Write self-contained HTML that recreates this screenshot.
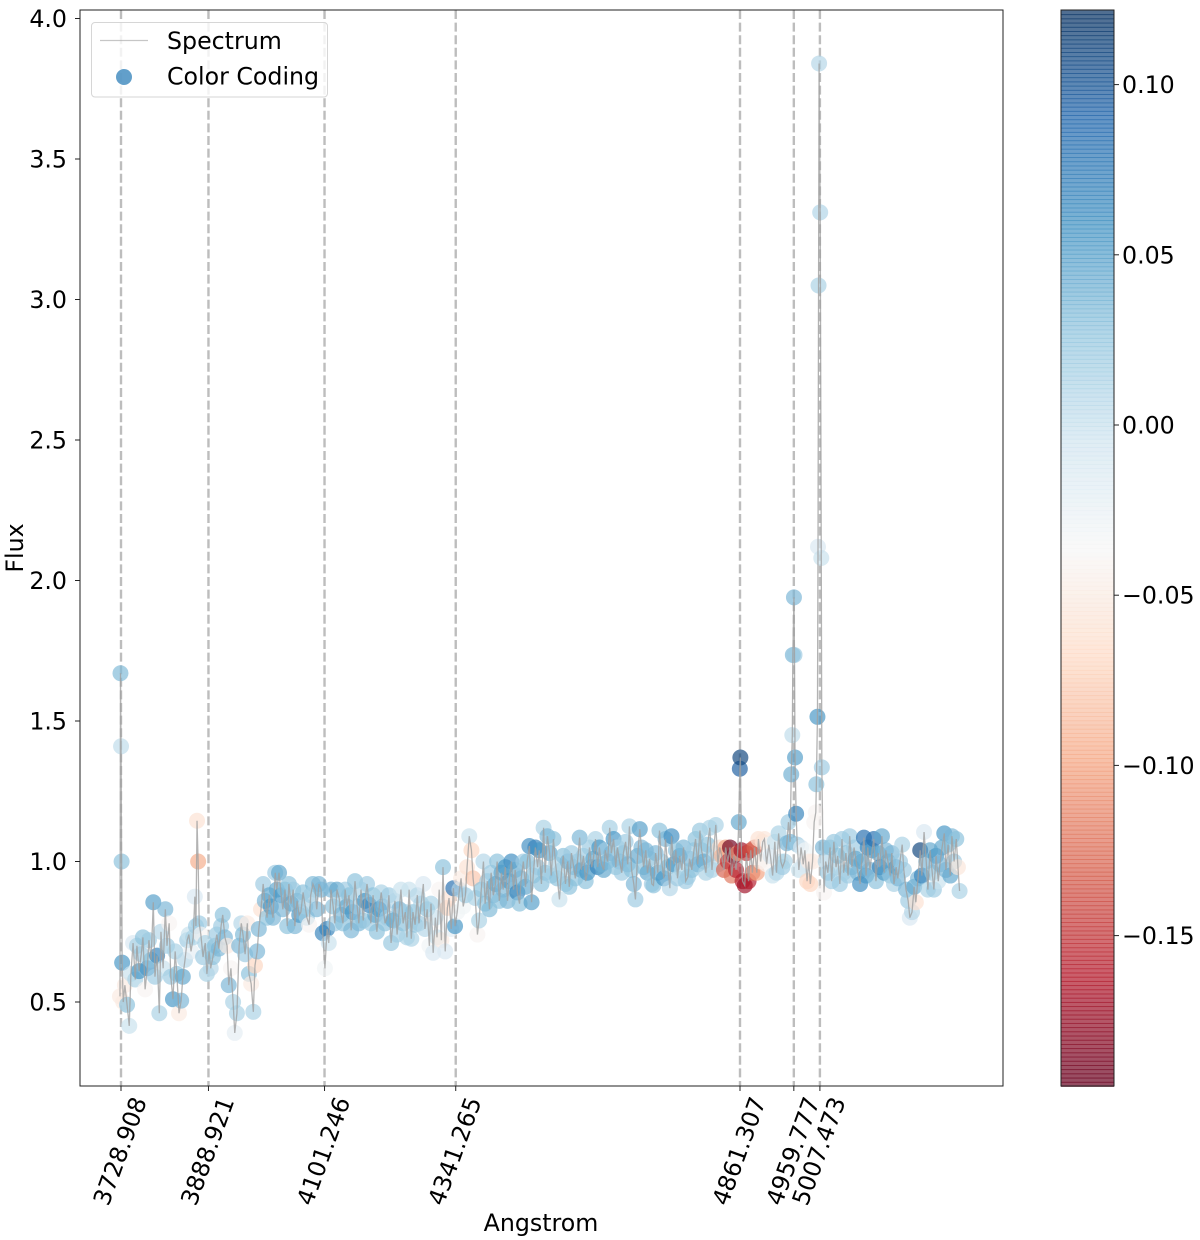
<!DOCTYPE html>
<html lang="en">
<head>
<meta charset="utf-8">
<title>Spectrum Flux Chart</title>
<style>
html,body{margin:0;padding:0;background:#fff;}
svg{display:block;}
text{font-family:"DejaVu Sans","Liberation Sans",sans-serif;font-size:23.7px;fill:#000;}
</style>
</head>
<body>
<svg id="chart" xmlns="http://www.w3.org/2000/svg" width="1200" height="1240" viewBox="0 0 1200 1240">
  <rect x="80" y="10" width="923" height="1076" fill="#fff"/>
  <g id="vlines"></g>
  <g id="dots"></g>
  <path id="spectrum" fill="none" stroke="#a0a0a0" stroke-opacity="0.8" stroke-width="1.3"/>
  <rect x="80" y="10" width="923" height="1076" fill="none" stroke="#222" stroke-width="1"/>
  <g id="xticks"></g>
  <g id="yticks"></g>
  <text x="541" y="1231" text-anchor="middle">Angstrom</text>
  <text transform="translate(23,548) rotate(-90)" text-anchor="middle">Flux</text>
  <g>
    <rect x="91.5" y="22.5" width="236" height="74.5" rx="3.5" fill="#fff" fill-opacity="0.8" stroke="#ccc" stroke-opacity="0.8" stroke-width="1"/>
    <line x1="100" y1="40.5" x2="148" y2="40.5" stroke="#a0a0a0" stroke-opacity="0.6" stroke-width="1.2"/>
    <text x="167" y="49">Spectrum</text>
    <circle cx="124" cy="77" r="8" fill="#2d7fb8" fill-opacity="0.75"/>
    <text x="167" y="84.5">Color Coding</text>
  </g>
  <g id="colorbar"></g>
  <rect x="1061" y="10" width="53" height="1076" fill="none" stroke="#222" stroke-width="1"/>
  <g id="cticks"></g>
</svg>
<script>
const lineWavelengths = [3728.908, 3888.921, 4101.246, 4341.265, 4861.307, 4959.777, 5007.473];
const lineLabels = ["3728.908", "3888.921", "4101.246", "4341.265", "4861.307", "4959.777", "5007.473"];
const yTickValues = [0.5, 1.0, 1.5, 2.0, 2.5, 3.0, 3.5, 4.0];
const yTickLabels = ["0.5", "1.0", "1.5", "2.0", "2.5", "3.0", "3.5", "4.0"];
const colorTickValues = [0.10, 0.05, 0, -0.05, -0.10, -0.15];
const colorTickLabels = ["0.10", "0.05", "0.00", "\u22120.05", "\u22120.10", "\u22120.15"];
const colorLimits = [-0.194, 0.122];
const wavelengths = [
3727,3728,3729,3730,3731,3733,3736,3740,3744,3747,
3751,3755,3758,3762,3766,3769,3773,3777,3780,3784,
3788,3791,3795,3799,3802,3806,3810,3813,3817,3820,
3824,3828,3831,3835,3839,3842,3846,3850,3853,3857,
3861,3864,3866,3868,3870,3872,3875,3879,3883,3886,
3890,3893,3897,3901,3904,3908,3912,3915,3919,3923,
3926,3930,3934,3937,3941,3945,3949,3952,3956,3960,
3963,3967,3971,3974,3978,3981,3985,3989,3992,3996,
4000,4003,4007,4011,4014,4018,4022,4025,4029,4033,
4036,4040,4044,4047,4051,4055,4058,4062,4066,4069,
4073,4076,4080,4084,4087,4091,4095,4098,4102,4106,
4109,4113,4117,4120,4124,4128,4132,4135,4139,4142,
4146,4150,4153,4157,4161,4164,4168,4172,4175,4179,
4183,4186,4190,4194,4197,4201,4205,4208,4212,4216,
4219,4223,4227,4230,4234,4238,4241,4245,4249,4252,
4256,4260,4263,4267,4271,4274,4278,4282,4285,4289,
4293,4296,4300,4304,4307,4311,4315,4318,4322,4326,
4329,4333,4337,4340,4344,4348,4351,4355,4359,4362,
4366,4370,4373,4377,4381,4384,4388,4392,4395,4399,
4403,4406,4410,4414,4417,4421,4425,4428,4432,4436,
4439,4443,4447,4450,4454,4458,4461,4465,4469,4472,
4476,4480,4483,4487,4491,4494,4498,4502,4505,4509,
4513,4516,4520,4524,4527,4531,4535,4538,4542,4546,
4549,4553,4557,4560,4564,4568,4571,4575,4579,4582,
4586,4590,4593,4597,4601,4604,4608,4612,4615,4619,
4623,4626,4630,4634,4637,4641,4645,4648,4652,4656,
4659,4663,4667,4670,4674,4678,4681,4685,4689,4692,
4696,4700,4703,4707,4711,4714,4718,4722,4725,4729,
4733,4736,4740,4744,4747,4751,4755,4758,4762,4766,
4769,4773,4777,4780,4784,4788,4791,4795,4799,4802,
4806,4810,4813,4817,4821,4824,4828,4832,4835,4839,
4843,4846,4850,4854,4857,4859,4861,4862,4864,4866,
4870,4873,4877,4881,4884,4888,4892,4895,4899,4903,
4906,4910,4914,4917,4921,4925,4928,4932,4936,4939,
4943,4947,4950,4953,4955,4957,4958,4960,4961,4962,
4964,4966,4969,4973,4977,4980,4984,4987,4990,4994,
4997,5000,5001,5003,5004,5005,5006,5008,5010,5011,
5013,5015,5018,5022,5026,5029,5033,5037,5040,5044,
5048,5051,5055,5059,5062,5066,5070,5073,5077,5081,
5084,5088,5092,5095,5099,5103,5106,5110,5114,5117,
5121,5125,5128,5132,5136,5139,5143,5147,5150,5154,
5158,5161,5165,5169,5172,5176,5180,5183,5187,5191,
5194,5198,5202,5205,5209,5213,5216,5220,5224,5227,
5231,5235,5238,5242,5246,5249,5253,5257,5260,5263
];
const fluxValues = [
.52,1.67,1.41,1.00,.64,.50,.56,.49,.415,.60,
.71,.58,.70,.61,.67,.73,.545,.62,.72,.65,
.855,.59,.665,.46,.75,.62,.83,.70,.78,.59,
.51,.68,.60,.46,.505,.59,.65,.72,.74,.68,
.73,.875,.77,1.145,1.00,.78,.74,.66,.71,.60,
.68,.62,.66,.70,.74,.69,.77,.81,.73,.70,
.56,.62,.50,.39,.46,.70,.78,.74,.67,.78,
.60,.565,.465,.63,.68,.76,.83,.92,.86,.80,
.88,.84,.80,.96,.90,.96,.88,.83,.90,.77,
.92,.85,.90,.77,.86,.81,.82,.89,.84,.80,
.775,.88,.92,.90,.83,.92,.90,.745,.62,.76,
.71,.90,.84,.78,.90,.87,.81,.78,.90,.84,
.88,.755,.82,.93,.84,.78,.90,.79,.86,.92,
.845,.78,.88,.81,.75,.83,.89,.84,.78,.80,
.88,.71,.79,.86,.74,.83,.90,.78,.82,.73,
.90,.725,.82,.775,.88,.78,.85,.92,.76,.83,
.70,.85,.675,.80,.73,.90,.72,.98,.68,.835,
.87,.76,.905,.77,.82,.90,.94,.84,.88,.98,
1.09,1.04,.94,.87,.74,.79,.90,1.00,.85,.93,
.83,.96,.88,.92,1.00,.86,.96,.90,.98,.86,
.93,1.00,.90,.97,.89,.85,.94,1.00,.91,1.00,
1.055,.855,.95,1.05,.98,1.04,.92,1.12,.96,1.09,
1.03,.95,1.08,.99,.94,.865,.97,1.02,.92,1.00,
.91,1.03,.98,.94,1.00,1.085,.97,1.02,.93,.96,
1.05,.98,1.01,1.08,.98,1.05,.99,.97,1.04,1.00,
1.12,1.03,1.08,.98,1.05,1.00,.96,1.03,1.07,.99,
1.125,.97,.92,.865,1.02,1.115,1.05,.98,1.04,.96,
1.01,.92,.915,1.03,.96,1.11,1.00,.94,1.08,.98,
.905,1.09,.99,1.04,.94,1.02,.97,1.05,.93,.945,
1.01,.97,1.04,1.08,.99,1.11,1.04,1.00,.96,1.06,
1.12,.97,1.03,1.13,.99,1.05,1.02,.97,1.05,1.00,
1.05,.95,1.02,.97,1.03,1.14,1.33,1.37,1.04,.93,
.915,1.03,.93,1.04,.96,1.05,.96,1.08,1.00,1.07,
1.08,.99,1.06,1.02,.95,1.07,.96,1.10,1.00,.98,
1.00,1.065,1.14,1.07,1.31,1.45,1.735,1.94,1.735,1.37,
1.17,1.06,.97,1.05,.99,1.04,.93,1.00,.92,1.00,
1.14,1.175,1.275,1.515,2.12,3.05,3.84,3.31,2.08,1.335,
1.05,.89,1.00,.96,1.05,.93,1.07,.98,1.02,.92,
1.08,.96,1.03,.95,1.09,.98,1.05,1.01,.96,.92,
1.00,1.085,.95,1.05,.97,1.04,1.08,.93,1.03,.98,
1.09,.96,1.04,1.00,.95,1.03,.92,.98,.94,1.00,
1.06,.97,.90,.86,.80,.82,.91,.855,.94,1.04,
.95,1.105,1.00,.90,1.04,.96,.90,1.02,.93,.99,
1.05,1.10,.97,1.06,.95,1.09,1.00,1.08,.98,.895
];
const colorValues = [
-.05,.035,.005,.03,.057,-.05,-.05,.03,0,0,
-.01,.015,.015,.057,.022,.03,-.04,.057,.022,.03,
.052,.022,.07,.015,.01,0,.037,.022,-.04,.022,
.057,.015,.03,-.05,.037,.047,.01,.022,0,-.02,
.015,-.01,.022,-.06,-.095,.022,-.04,.022,.015,.015,
.015,.01,.03,.03,.022,.037,.022,.03,.037,-.05,
.037,-.04,.015,-.02,.015,.037,.01,.035,.022,-.05,
.03,-.05,.015,-.07,.037,.037,-.06,.022,.037,.03,
.047,.057,.037,.022,.047,.047,.057,.037,.03,.03,
.03,.047,.022,.037,.037,.057,.037,.03,.015,.022,
-.04,.022,.035,.015,.037,.037,.037,.07,-.03,.07,
0,.037,.03,.022,.047,.022,.037,.03,.022,.047,
.03,.037,.057,.03,.022,.037,.015,.03,.057,.022,
.07,.022,.03,.047,.03,.057,.015,.037,.03,.022,
.022,.025,.047,.01,.022,.037,0,.03,.022,.015,
0,.015,.03,.03,.01,.022,.015,-.01,.01,.03,
-.03,.015,-.01,0,0,-.04,-.05,.03,-.01,-.07,
-.06,-.02,.085,.057,-.03,.01,-.05,-.03,.022,-.06,
0,-.07,-.08,.015,-.04,.015,.03,.01,.03,.022,
.035,.022,.037,.047,.03,.03,.047,.037,.057,.037,
.057,.062,.03,.047,.07,.03,.037,.022,.047,.03,
.062,.052,.03,.07,.022,.057,.03,.015,.03,.037,
.047,.022,.03,.015,.03,0,.015,.03,.022,.037,
.03,.022,.037,.03,.022,.037,.047,.022,.03,.057,
.022,.037,.047,.015,.07,.057,.03,.047,.022,.037,
.018,.037,.057,.03,.015,.037,.022,.03,.022,.037,
.015,.03,.037,.022,.047,.052,.037,.03,.037,.047,
.03,.022,.03,.037,.047,.03,.022,.057,.037,.03,
.01,.062,.057,.03,.022,.047,.015,.037,.022,.022,
.037,.03,.022,.03,.037,.025,.022,.047,.015,.03,
.015,.015,.022,.015,.01,-.06,-.09,-.13,-.10,-.15,
-.19,-.12,-.18,-.16,-.10,.047,.095,.11,-.17,-.16,
-.17,-.15,-.16,-.14,-.13,-.13,-.10,-.06,-.05,-.06,
-.055,-.04,-.03,-.01,0,0,.01,.015,0,.022,
.015,.037,.022,.037,.042,.005,.037,.037,.022,.052,
.07,.022,0,-.01,-.01,-.03,-.07,-.05,-.07,-.05,
-.04,-.04,.03,.057,-.01,.015,.01,.012,0,.022,
.037,-.04,.01,.022,.03,.022,.025,.015,.03,.022,
.022,.015,.03,.022,.022,.035,.022,.047,.037,.062,
.047,.085,.057,.07,.037,.057,.085,.03,.047,.07,
.047,.057,.037,.047,.03,.037,.015,.057,.037,.022,
.015,.022,.037,.022,-.01,.01,.047,-.06,.037,.11,
.07,-.01,.037,.015,.047,.03,.022,.057,0,.037,
.047,.057,.037,.03,.047,.037,.022,.03,-.055,.015
];

const SVG_NS = "http://www.w3.org/2000/svg";
const xScale = v => 121 + (v - 3728.908) * (740 - 121) / (4861.307 - 3728.908);
const yScale = v => 1002 - (v - 0.5) * 281;
const cbarScale = v => 425 - v * 3404;
const rdbu = ["#67001f","#b2182b","#d6604d","#f4a582","#fddbc7","#f7f7f7","#d1e5f0","#92c5de","#4393c3","#2166ac","#053061"].map(h => [parseInt(h.slice(1,3),16),parseInt(h.slice(3,5),16),parseInt(h.slice(5,7),16)]);
function colorFor(v) {
  let t = (v - colorLimits[0]) / (colorLimits[1] - colorLimits[0]);
  t = Math.max(0, Math.min(1, t)) * 10;
  const i = Math.min(9, Math.floor(t)), f = t - i;
  const c = rdbu[i].map((a, k) => Math.round(a + (rdbu[i + 1][k] - a) * f));
  return "rgb(" + c.join(",") + ")";
}
function make(tag, attrs, parent) {
  const el = document.createElementNS(SVG_NS, tag);
  for (const k in attrs) el.setAttribute(k, attrs[k]);
  parent.appendChild(el);
  return el;
}

const vlines = document.getElementById("vlines");
const xticks = document.getElementById("xticks");
lineWavelengths.forEach((w, i) => {
  const x = xScale(w);
  const v = make("line", {x1: x, x2: x, y1: 10, y2: 1086, stroke: "#bdbdbd", "stroke-width": 2.4, "stroke-dasharray": "9 3.6"}, vlines);
  
  
  const t = make("line", {x1: x, x2: x, y1: 1086, y2: 1091, stroke: "#222", "stroke-width": 1}, xticks);
  
  
  const l = make("text", {x: 0, y: 0, dy: ".36em", "text-anchor": "middle", transform: "translate(" + (x - 1.3) + ",1151) rotate(-70)"}, xticks);
  l.textContent = lineLabels[i];
  
  
});

const dots = document.getElementById("dots");
wavelengths.forEach((w, i) => {
  const d = make("circle", {cx: xScale(w), cy: yScale(fluxValues[i]), r: 8, fill: colorFor(colorValues[i]), "fill-opacity": 0.68}, dots);
  
  
});

document.getElementById("spectrum").setAttribute("d", wavelengths.map((w, i) => (i ? "L" : "M") + xScale(w).toFixed(2) + " " + yScale(fluxValues[i]).toFixed(2)).join(""));

const yticks = document.getElementById("yticks");
yTickValues.forEach((v, i) => {
  const y = yScale(v);
  const t = make("line", {x1: 75, x2: 80, y1: y, y2: y, stroke: "#222", "stroke-width": 1}, yticks);
  
  
  const l = make("text", {x: 67, y: y + 8.5, "text-anchor": "end"}, yticks);
  l.textContent = yTickLabels[i];
  
  
});

const colorbar = document.getElementById("colorbar");
const levels = 256, rowH = 1076 / levels;
for (let i = 0; i < levels; i++) {
  const v = colorLimits[0] + (i + 0.5) / levels * (colorLimits[1] - colorLimits[0]);
  const r = make("rect", {x: 1061, width: 53, y: 1086 - (i + 1) * rowH, height: rowH + 0.9, fill: colorFor(v), "fill-opacity": 0.7}, colorbar);
  
  
}

const cticks = document.getElementById("cticks");
colorTickValues.forEach((v, i) => {
  const y = cbarScale(v);
  const t = make("line", {x1: 1114, x2: 1119, y1: y, y2: y, stroke: "#222", "stroke-width": 1}, cticks);
  
  
  const l = make("text", {x: 1122, y: y + 8.5}, cticks);
  l.textContent = colorTickLabels[i];
  
  
});
</script>
</body>
</html>
